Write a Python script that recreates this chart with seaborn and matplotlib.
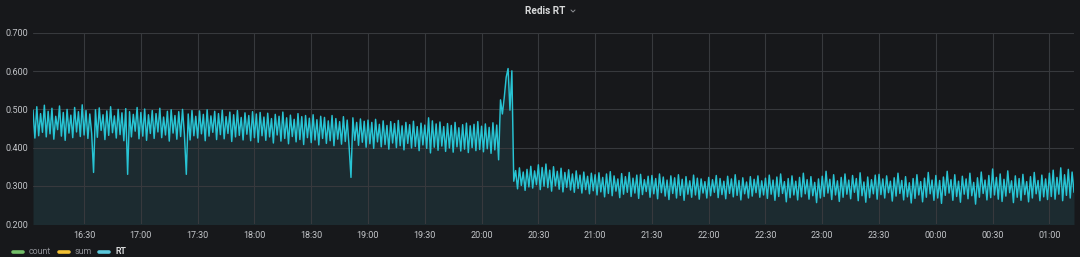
import matplotlib
matplotlib.use("Agg")
import matplotlib.pyplot as plt
import seaborn as sns
import pandas as pd
from matplotlib.lines import Line2D
from matplotlib.ticker import FormatStrFormatter

# ---------------- data (RT, one sample per minute, from 16:03) ----------------
start_time = "2021-06-01 16:03"
rt_1603 = [0.498, 0.425, 0.507, 0.431, 0.489, 0.440, 0.511, 0.428, 0.495, 0.436,
           0.503, 0.422, 0.482, 0.447, 0.509, 0.430, 0.492, 0.419, 0.500, 0.438,
           0.485, 0.426, 0.505, 0.441, 0.494, 0.429, 0.512]
rt_1630 = [0.433, 0.497, 0.424, 0.488, 0.437, 0.335, 0.499, 0.427, 0.504, 0.445,
           0.486, 0.421, 0.496, 0.432, 0.507, 0.439, 0.483, 0.425, 0.500, 0.434,
           0.491, 0.418, 0.502, 0.330, 0.494, 0.428, 0.487, 0.443, 0.505, 0.423]
rt_1700 = [0.492, 0.430, 0.501, 0.419, 0.486, 0.437, 0.497, 0.424, 0.489, 0.441,
           0.503, 0.426, 0.480, 0.433, 0.495, 0.417, 0.499, 0.438, 0.484, 0.422,
           0.494, 0.429, 0.500, 0.435, 0.330, 0.488, 0.420, 0.497, 0.431, 0.482,
           0.425, 0.496, 0.436, 0.487, 0.418, 0.499, 0.430, 0.483, 0.440, 0.495,
           0.421, 0.489, 0.434, 0.498, 0.423, 0.481, 0.437, 0.493, 0.416, 0.486,
           0.428, 0.497, 0.432, 0.479, 0.420, 0.491, 0.435, 0.484, 0.418, 0.494]
rt_1800 = [0.426, 0.488, 0.414, 0.492, 0.431, 0.480, 0.419, 0.490, 0.428, 0.476,
           0.412, 0.487, 0.433, 0.482, 0.417, 0.493, 0.424, 0.478, 0.410, 0.485,
           0.429, 0.474, 0.415, 0.489, 0.421, 0.481, 0.408, 0.484, 0.426, 0.477,
           0.413, 0.486, 0.420, 0.473, 0.407, 0.482, 0.424, 0.479, 0.411, 0.470,
           0.418, 0.484, 0.405, 0.476, 0.422, 0.468, 0.409, 0.481, 0.416, 0.472,
           0.403, 0.322, 0.478, 0.419, 0.466, 0.406, 0.475, 0.414, 0.469, 0.401]
rt_1900 = [0.472, 0.410, 0.466, 0.398, 0.474, 0.415, 0.461, 0.402, 0.470, 0.408,
           0.458, 0.396, 0.468, 0.412, 0.463, 0.400, 0.471, 0.405, 0.457, 0.394,
           0.466, 0.411, 0.460, 0.399, 0.469, 0.403, 0.455, 0.392, 0.464, 0.407,
           0.459, 0.398, 0.478, 0.386, 0.470, 0.401, 0.462, 0.393, 0.467, 0.404,
           0.455, 0.390, 0.463, 0.399, 0.458, 0.388, 0.466, 0.402, 0.452, 0.391,
           0.460, 0.396, 0.464, 0.387, 0.457, 0.400, 0.461, 0.392, 0.468, 0.395]
rt_2000 = [0.456, 0.389, 0.462, 0.397, 0.453, 0.385, 0.465, 0.394, 0.459, 0.368,
           0.525, 0.488, 0.532, 0.584, 0.607, 0.498, 0.601, 0.312, 0.340, 0.292,
           0.347, 0.301, 0.336, 0.288, 0.343, 0.297, 0.351, 0.294, 0.339, 0.303,
           0.355, 0.290, 0.348, 0.299, 0.357, 0.295, 0.341, 0.286, 0.350, 0.300,
           0.338, 0.291, 0.346, 0.284, 0.335, 0.296, 0.342, 0.289, 0.331, 0.283,
           0.339, 0.293, 0.328, 0.281, 0.336, 0.290, 0.325, 0.279, 0.333, 0.287]
rt_2100 = [0.329, 0.276, 0.334, 0.284, 0.322, 0.271, 0.331, 0.280, 0.337, 0.274,
           0.326, 0.286, 0.318, 0.269, 0.332, 0.278, 0.324, 0.283, 0.335, 0.272,
           0.320, 0.281, 0.328, 0.267, 0.330, 0.277, 0.316, 0.285, 0.325, 0.270,
           0.327, 0.279, 0.319, 0.266, 0.331, 0.282, 0.323, 0.273, 0.315, 0.264,
           0.326, 0.280, 0.321, 0.268, 0.329, 0.275, 0.317, 0.262, 0.324, 0.278,
           0.313, 0.270, 0.328, 0.276, 0.320, 0.265, 0.318, 0.281, 0.311, 0.268]
rt_2200 = [0.322, 0.274, 0.316, 0.283, 0.327, 0.269, 0.319, 0.277, 0.312, 0.266,
           0.325, 0.280, 0.318, 0.271, 0.329, 0.275, 0.314, 0.263, 0.321, 0.279,
           0.310, 0.268, 0.324, 0.273, 0.317, 0.282, 0.326, 0.270, 0.313, 0.276,
           0.320, 0.267, 0.328, 0.278, 0.315, 0.262, 0.323, 0.272, 0.331, 0.280,
           0.311, 0.258, 0.319, 0.269, 0.326, 0.276, 0.312, 0.263, 0.322, 0.271,
           0.333, 0.279, 0.316, 0.265, 0.324, 0.274, 0.309, 0.256, 0.318, 0.268]
rt_2300 = [0.325, 0.272, 0.338, 0.281, 0.317, 0.264, 0.329, 0.276, 0.313, 0.259,
           0.322, 0.270, 0.331, 0.278, 0.315, 0.266, 0.327, 0.283, 0.319, 0.261,
           0.334, 0.274, 0.310, 0.257, 0.323, 0.269, 0.316, 0.279, 0.328, 0.265,
           0.330, 0.277, 0.318, 0.268, 0.326, 0.282, 0.312, 0.260, 0.321, 0.273,
           0.333, 0.280, 0.314, 0.263, 0.324, 0.271, 0.308, 0.255, 0.319, 0.267,
           0.329, 0.276, 0.311, 0.258, 0.320, 0.270, 0.335, 0.279, 0.315, 0.262]
rt_0000 = [0.327, 0.268, 0.314, 0.254, 0.323, 0.275, 0.338, 0.281, 0.316, 0.262,
           0.329, 0.272, 0.312, 0.257, 0.325, 0.278, 0.318, 0.266, 0.333, 0.274,
           0.309, 0.252, 0.321, 0.270, 0.336, 0.280, 0.315, 0.263, 0.327, 0.269,
           0.344, 0.276, 0.322, 0.265, 0.331, 0.259, 0.317, 0.273, 0.339, 0.282,
           0.313, 0.256, 0.326, 0.270, 0.319, 0.262, 0.330, 0.277, 0.311, 0.258,
           0.324, 0.268, 0.335, 0.279, 0.314, 0.261, 0.328, 0.271, 0.318, 0.264]
rt_0100 = [0.333, 0.272, 0.341, 0.265, 0.322, 0.278, 0.347, 0.261, 0.329, 0.275,
           0.343, 0.268, 0.336, 0.283]

y_ticks = [0.2, 0.3, 0.4, 0.5, 0.6, 0.7]
x_tick_labels = ["16:30", "17:00", "17:30", "18:00", "18:30", "19:00", "19:30",
                 "20:00", "20:30", "21:00", "21:30", "22:00", "22:30", "23:00",
                 "23:30", "00:00", "00:30", "01:00"]
legend_names = ["count", "sum", "RT"]
legend_colors = ["#73bf69", "#f2c033", "#5bc8dc"]
legend_text_colors = ["#8e9095", "#8e9095", "#d8d9da"]
title = "Redis RT"

# ---------------- build frame ----------------
rt = (rt_1603 + rt_1630 + rt_1700 + rt_1800 + rt_1900 + rt_2000 + rt_2100 +
      rt_2200 + rt_2300 + rt_0000 + rt_0100)
times = pd.date_range(start_time, periods=len(rt), freq="min")
df = pd.DataFrame({"time": times, "RT": rt})

day0 = pd.Timestamp(start_time).normalize()
x_tick_pos = []
for lab in x_tick_labels:
    h, m = map(int, lab.split(":"))
    ts = day0 + pd.Timedelta(hours=h, minutes=m)
    if h < 12:
        ts += pd.Timedelta(days=1)
    x_tick_pos.append(ts)

# ---------------- style ----------------
BG = "#17181b"
FILL = "#1c2b30"
LINE = "#28c4d4"
GRID = "#37393d"
TICK = "#c4c6ca"

sns.set_theme(style="dark")
plt.rcParams['font.family'] = ['Roboto', 'DejaVu Sans']

W, H = 1080, 257
fig = plt.figure(figsize=(W / 100, H / 100), dpi=100, facecolor=BG)
L, R, T, B = 33, 1074, 33, 224
ax = fig.add_axes([L / W, 1 - B / H, (R - L) / W, (B - T) / H])
ax.set_facecolor(BG)

ax.fill_between(df["time"], df["RT"], 0, color=FILL, lw=0, zorder=0.2)
sns.lineplot(data=df, x="time", y="RT", ax=ax, color=LINE, lw=1.05, zorder=2)

ax.set_xlim(times[0], times[-1])
ax.set_ylim(y_ticks[0], y_ticks[-1])
ax.set_yticks(y_ticks)
ax.yaxis.set_major_formatter(FormatStrFormatter('%.3f'))
ax.set_xticks(x_tick_pos)
ax.set_xticklabels(x_tick_labels)
ax.set_xlabel("")
ax.set_ylabel("")
ax.set_axisbelow(True)
ax.grid(True, color=GRID, lw=0.8)
for s in ax.spines.values():
    s.set_visible(False)
ax.tick_params(axis="both", length=0, colors=TICK, labelsize=6.5)
ax.tick_params(axis="x", pad=5)
ax.tick_params(axis="y", pad=3.5)

# title
fig.text(545.5 / W, 1 - 10.5 / H, title, ha="center", va="center",
         fontsize=7.2, fontweight="bold", color="#d8d9da")
fig.add_artist(Line2D([571 / W, 573 / W, 575 / W],
                      [1 - 10 / H, 1 - 12 / H, 1 - 10 / H],
                      color="#8e9095", lw=0.7))

# legend
ly = 1 - 251.5 / H
marker_x = [13, 59, 99]
text_x = [29, 75, 115]
for name, c, tc, mx, tx in zip(legend_names, legend_colors, legend_text_colors,
                               marker_x, text_x):
    fig.add_artist(Line2D([mx / W, (mx + 10) / W], [ly, ly], color=c, lw=2.6,
                          solid_capstyle="round"))
    fig.text(tx / W, ly, name, ha="left", va="center", fontsize=6.4, color=tc,
             fontweight="bold" if name == "RT" else "normal")

fig.savefig("out.png", dpi=100, facecolor=BG)
